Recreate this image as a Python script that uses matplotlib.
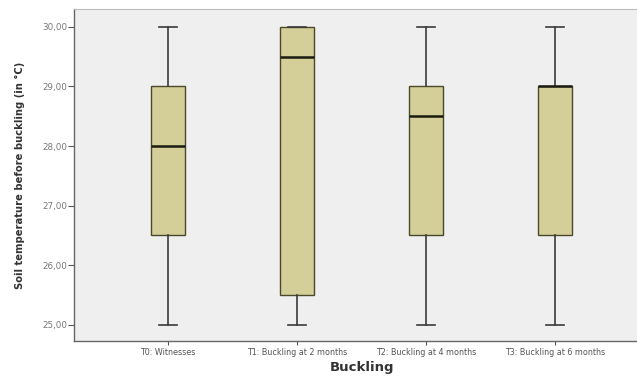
import matplotlib
matplotlib.use("Agg")
import matplotlib.pyplot as plt
from matplotlib.ticker import FuncFormatter

# five-number summaries per treatment group
groups = ["T0: Witnesses", "T1: Buckling at 2 months",
          "T2: Buckling at 4 months", "T3: Buckling at 6 months"]
whisker_low = [25.0, 25.0, 25.0, 25.0]
q1 = [26.5, 25.5, 26.5, 26.5]
medians = [28.0, 29.5, 28.5, 29.0]
q3 = [29.0, 30.0, 29.0, 29.0]
whisker_high = [30.0, 30.0, 30.0, 30.0]
yticks = [25, 26, 27, 28, 29, 30]

stats = []
for name, lo, a, m, b, hi in zip(groups, whisker_low, q1, medians, q3, whisker_high):
    stats.append({"label": name, "whislo": lo, "q1": a, "med": m,
                  "q3": b, "whishi": hi, "fliers": []})

fig = plt.figure(figsize=(6.37, 3.76), dpi=100)
fig.patch.set_facecolor("white")
# axes run slightly past the right edge of the figure
ax = fig.add_axes([74 / 637, 35 / 376, 575 / 637, 332 / 376])
ax.set_facecolor("#efefef")

ax.bxp(stats, positions=range(len(groups)), widths=0.265, patch_artist=True,
       showfliers=False,
       boxprops=dict(facecolor="#d4cf98", edgecolor="#4a4a2a", linewidth=1.0),
       medianprops=dict(color="#1a1a10", linewidth=1.8),
       whiskerprops=dict(color="#3a3a3a", linewidth=1.2),
       capprops=dict(color="#3a3a3a", linewidth=1.2),
       capwidths=0.14)

ax.set_xlim(-0.729, 3.729)
ax.set_ylim(24.73, 30.30)
ax.set_yticks(yticks)
ax.yaxis.set_major_formatter(FuncFormatter(lambda v, p: f"{v:.2f}".replace(".", ",")))
ax.set_xticks(range(len(groups)))
ax.set_xticklabels(groups)

ax.tick_params(axis="y", labelsize=6.3, labelcolor="#777777", color="#555555",
               length=4, width=0.8, pad=1)
ax.tick_params(axis="x", labelsize=5.8, labelcolor="#555555", color="#555555",
               length=3, width=0.8, pad=2)

for side in ["left", "bottom"]:
    ax.spines[side].set_color("#666666")
    ax.spines[side].set_linewidth(1.0)
ax.spines["top"].set_color("#bbbbbb")
ax.spines["right"].set_visible(False)

ax.set_ylabel("Soil temperature before buckling (in °C)", fontsize=7.2,
              fontweight="bold", color="#333333", labelpad=12)
ax.set_xlabel("Buckling", fontsize=9.5, fontweight="bold", color="#333333",
              labelpad=3)

fig.savefig("out.png", dpi=100)
